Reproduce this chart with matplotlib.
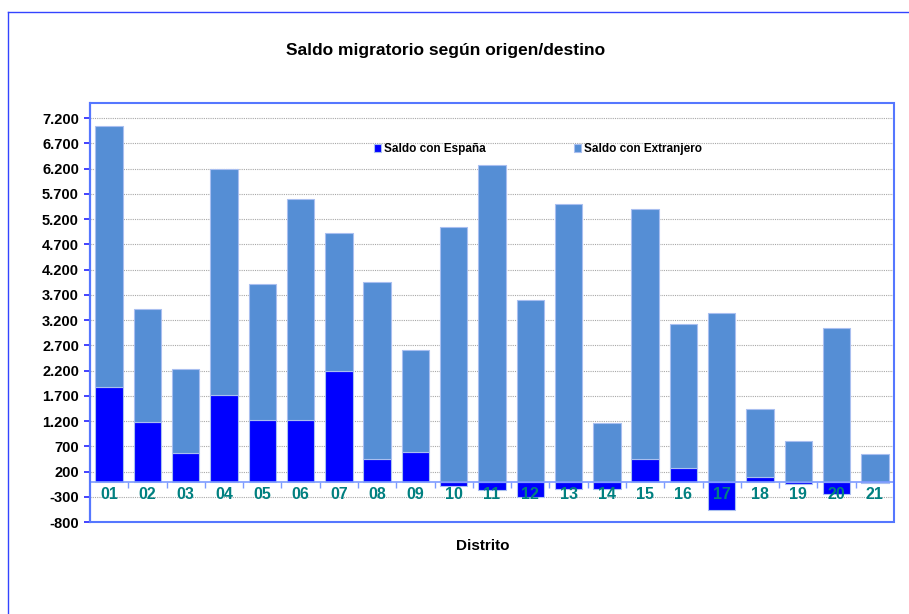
import numpy as np
import matplotlib.pyplot as plt
from matplotlib.ticker import FuncFormatter
from matplotlib.patches import Rectangle
from matplotlib.lines import Line2D

plt.rcParams['font.family'] = ['Liberation Sans', 'DejaVu Sans']

# datos
distritos = ["01", "02", "03", "04", "05", "06", "07", "08", "09", "10", "11",
             "12", "13", "14", "15", "16", "17", "18", "19", "20", "21"]
saldo_espana = [1880, 1180, 570, 1720, 1225, 1225, 2195, 450, 595, -80, -170,
                -310, -140, -145, 440, 275, -570, 90, -45, -245, -30]
saldo_extranjero = [5170, 2240, 1670, 4480, 2695, 4370, 2735, 3510, 2015, 5035, 6275,
                    3605, 5495, 1165, 4960, 2845, 3340, 1345, 800, 3035, 550]
yticks = np.arange(-800, 7201, 500)

fig = plt.figure(figsize=(9.09, 6.14), dpi=100)
ax = fig.add_axes([90 / 909, 1 - 522 / 614, 804 / 909, 419 / 614])

x = np.arange(len(distritos))
esp = np.array(saldo_espana)
ext = np.array(saldo_extranjero)
base = np.where(esp > 0, esp, 0)

# barras apiladas: las negativas de España van hacia abajo desde cero
ax.bar(x, esp, width=0.72, color="#0000FF", edgecolor="#A9BFF0", linewidth=0.8,
       label="Saldo con España", zorder=3)
ax.bar(x, ext, bottom=base, width=0.72, color="#558ED5", edgecolor="#A9BFF0",
       linewidth=0.8, label="Saldo con Extranjero", zorder=3)

ax.set_xlim(-0.5, len(distritos) - 0.5)
ax.set_ylim(-800, 7500)
ax.set_yticks(yticks)
ax.yaxis.set_major_formatter(FuncFormatter(lambda v, p: f"{v:,.0f}".replace(",", ".")))
ax.tick_params(axis="y", labelsize=10.5, length=4, color="#2222FF", width=1.2, pad=4)
for t in ax.get_yticklabels():
    t.set_fontweight("bold")
ax.grid(axis="y", color="#A8A8A8", linestyle=(0, (1, 1)), linewidth=0.8, zorder=0)

# eje x en el cero, marcas entre distritos
ax.spines["bottom"].set_position(("data", 0))
ax.spines["bottom"].set_color("#7D9BFF")
ax.spines["bottom"].set_linewidth(1.2)
ax.spines["bottom"].set_zorder(4)
ax.set_xticks([])
ax.set_xticks(np.arange(0.5, len(distritos) - 1, 1), minor=True)
ax.tick_params(axis="x", which="minor", length=4, color="#7D9BFF", width=1)

# etiquetas de distrito por encima de las barras
for i, d in enumerate(distritos):
    ax.annotate(d, xy=(x[i], 0), xytext=(0, -9), textcoords="offset points",
                ha="center", va="center", fontsize=11.5, fontweight="bold",
                color="#008080", zorder=5)

ax.spines["left"].set_color("#2222FF")
ax.spines["left"].set_linewidth(1.5)
ax.spines["top"].set_visible(False)
ax.spines["right"].set_visible(False)
# marco del area de trazado
ax.add_patch(Rectangle((0, 0), 1, 1, transform=ax.transAxes, fill=False,
                       edgecolor="#5577FF", linewidth=1.5, zorder=6, clip_on=False))

# fondo blanco de la leyenda que tapa la rejilla
ax.add_patch(Rectangle(((287 - 90) / 804, (522 - 160) / 419), (783 - 287) / 804, 27 / 419,
                       transform=ax.transAxes, facecolor="white", edgecolor="none", zorder=1))
leg = ax.legend(loc="center", bbox_to_anchor=((538 - 90) / 804, (522 - 149) / 419),
                ncol=2, frameon=False, fontsize=8.5, handlelength=0.6, handleheight=0.6,
                handletextpad=0.2, columnspacing=7.5, borderaxespad=0)
for t in leg.get_texts():
    t.set_fontweight("bold")

fig.text(446 / 909, 1 - 50 / 614, "Saldo migratorio según origen/destino",
         ha="center", va="center", fontsize=12.5, fontweight="bold")
fig.text(483 / 909, 1 - 546 / 614, "Distrito", ha="center", va="center",
         fontsize=11, fontweight="bold")

# marco exterior del grafico
fig.add_artist(Line2D([8 / 909, 8 / 909], [0, 1 - 12 / 614], color="#3344FF", linewidth=1))
fig.add_artist(Line2D([8 / 909, 1], [1 - 12 / 614, 1 - 12 / 614], color="#3344FF", linewidth=1))

fig.savefig("out.png", dpi=100)
plt.close()
